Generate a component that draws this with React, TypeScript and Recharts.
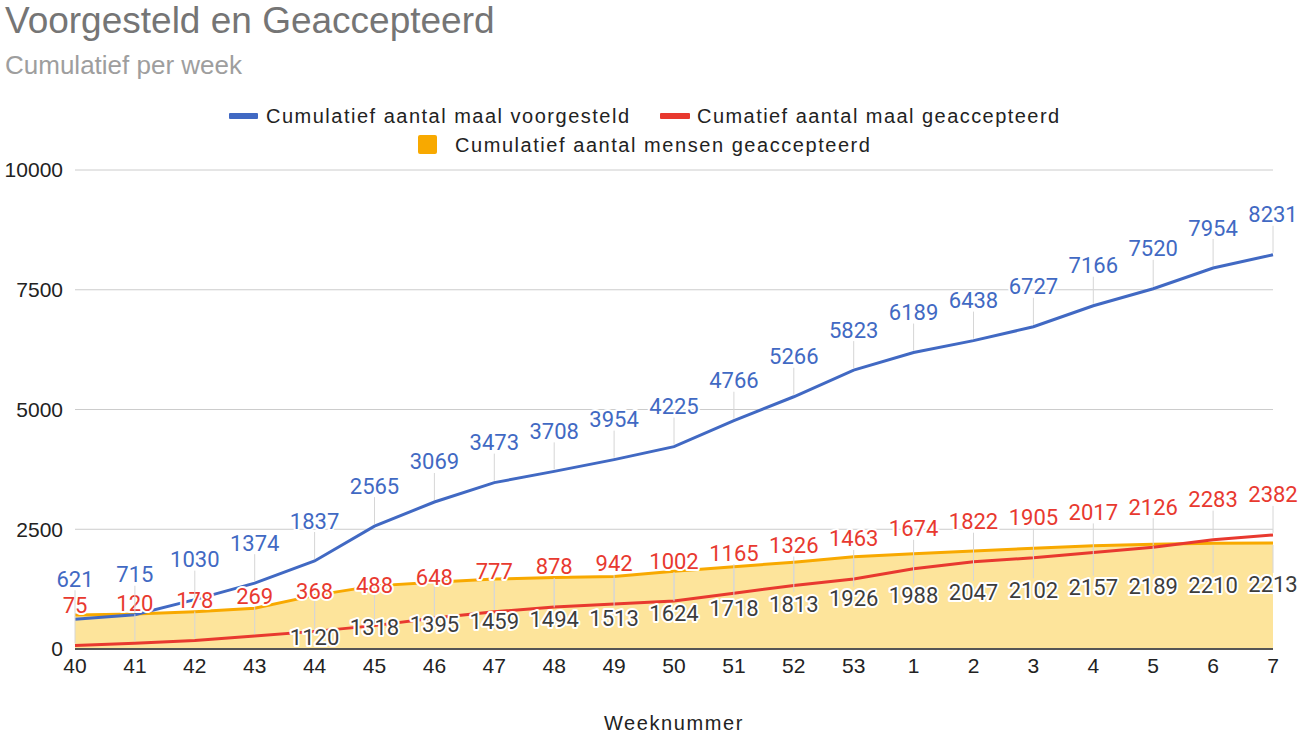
import { ComposedChart, Area, Line, XAxis, YAxis, CartesianGrid } from 'recharts';

// Weeknummers
const weeks = ['40', '41', '42', '43', '44', '45', '46', '47', '48', '49', '50', '51', '52', '53', '1', '2', '3', '4', '5', '6', '7'];

// Cumulatief aantal maal voorgesteld
const voorgesteld = [621, 715, 1030, 1374, 1837, 2565, 3069, 3473, 3708, 3954, 4225, 4766, 5266, 5823, 6189, 6438, 6727, 7166, 7520, 7954, 8231];

// Cumatief aantal maal geaccepteerd
const geaccepteerd = [75, 120, 178, 269, 368, 488, 648, 777, 878, 942, 1002, 1165, 1326, 1463, 1674, 1822, 1905, 2017, 2126, 2283, 2382];

// Cumulatief aantal mensen geaccepteerd (first four, labels hidden)
const mensen = [710, 730, 780, 850, 1120, 1318, 1395, 1459, 1494, 1513, 1624, 1718, 1813, 1926, 1988, 2047, 2102, 2157, 2189, 2210, 2213];

const yTicks = [0, 2500, 5000, 7500, 10000];

const BLUE = '#4169c3';
const RED = '#e8392f';
const ORANGE = '#f8a900';
const AREA_FILL = '#fde49b';
const LABEL_FONT = 'Roboto, sans-serif';
const UI_FONT = '"Liberation Sans", Arial, sans-serif';

const data = weeks.map((w, i) => ({
  week: w,
  voorgesteld: voorgesteld[i],
  geaccepteerd: geaccepteerd[i],
  mensen: mensen[i],
}));

function ValueLabel(props: any) {
  const { x, y, value, index, color, below, skip } = props;
  if (x == null || y == null) return null;
  if (skip && index < skip) return null;
  const ty = below ? y + 42 : y - 40;
  return (
    <g>
      <line
        x1={x}
        x2={x}
        y1={below ? y + 2 : y - 29}
        y2={below ? y + 30 : y - 2}
        stroke="#d6d6d6"
        strokeWidth={1}
      />
      <text
        x={x}
        y={ty}
        textAnchor="middle"
        dominantBaseline="central"
        fontFamily={LABEL_FONT}
        fontSize={22}
        fill={color}
        stroke="#fff"
        strokeWidth={4}
        strokeLinejoin="round"
        style={{ paintOrder: 'stroke' }}
      >
        {value}
      </text>
    </g>
  );
}

export default function App() {
  return (
    <div style={{ position: 'absolute', left: 0, top: 0, width: 1299, height: 737, background: '#fff', fontFamily: UI_FONT }}>
      <div style={{ position: 'absolute', left: 5, top: 2, fontSize: 37, lineHeight: 1, color: '#757575', whiteSpace: 'nowrap' }}>
        Voorgesteld en Geaccepteerd
      </div>
      <div style={{ position: 'absolute', left: 5, top: 52, fontSize: 26, lineHeight: 1, color: '#9e9e9e', whiteSpace: 'nowrap' }}>
        Cumulatief per week
      </div>

      {/* legend */}
      <div style={{ position: 'absolute', left: 229, top: 113, width: 29, height: 6, background: BLUE, borderRadius: 1 }} />
      <div style={{ position: 'absolute', left: 266, top: 106, fontSize: 20, lineHeight: 1, letterSpacing: 1.5, color: '#222', whiteSpace: 'nowrap' }}>
        Cumulatief aantal maal voorgesteld
      </div>
      <div style={{ position: 'absolute', left: 660, top: 113, width: 30, height: 6, background: RED, borderRadius: 1 }} />
      <div style={{ position: 'absolute', left: 697, top: 106, fontSize: 20, lineHeight: 1, letterSpacing: 1.45, color: '#222', whiteSpace: 'nowrap' }}>
        Cumatief aantal maal geaccepteerd
      </div>
      <div style={{ position: 'absolute', left: 418, top: 135, width: 19, height: 19, background: ORANGE, borderRadius: 2 }} />
      <div style={{ position: 'absolute', left: 455, top: 135, fontSize: 20, lineHeight: 1, letterSpacing: 1.55, color: '#222', whiteSpace: 'nowrap' }}>
        Cumulatief aantal mensen geaccepteerd
      </div>

      <div style={{ position: 'absolute', left: 75, width: 1198, top: 713, fontSize: 20, lineHeight: 1, letterSpacing: 1.6, color: '#222', textAlign: 'center' }}>
        Weeknummer
      </div>

      <div style={{ position: 'absolute', left: 0, top: 0 }}>
        <ComposedChart width={1299} height={737} data={data} margin={{ top: 170, right: 26, bottom: 58, left: 15 }}>
          <CartesianGrid vertical={false} stroke="#cccccc" />
          <XAxis
            dataKey="week"
            scale="point"
            height={30}
            interval={0}
            tickLine={false}
            tickSize={0}
            tickMargin={9}
            axisLine={{ stroke: '#555', strokeWidth: 2 }}
            tick={{ fontSize: 21, fill: '#222', fontFamily: UI_FONT }}
          />
          <YAxis
            width={60}
            domain={[0, 10000]}
            ticks={yTicks}
            interval={0}
            axisLine={false}
            tickLine={false}
            tickSize={0}
            tickMargin={12}
            tick={{ fontSize: 21, fill: '#222', fontFamily: UI_FONT }}
          />
          <Area
            type="linear"
            dataKey="mensen"
            stroke={ORANGE}
            strokeWidth={3}
            fill={AREA_FILL}
            fillOpacity={1}
            isAnimationActive={false}
            label={(p: any) => <ValueLabel {...p} color="#3c3c3c" below skip={4} />}
          />
          <Line
            type="linear"
            dataKey="geaccepteerd"
            stroke={RED}
            strokeWidth={3}
            dot={false}
            isAnimationActive={false}
            label={(p: any) => <ValueLabel {...p} color={RED} />}
          />
          <Line
            type="linear"
            dataKey="voorgesteld"
            stroke={BLUE}
            strokeWidth={3}
            dot={false}
            isAnimationActive={false}
            label={(p: any) => <ValueLabel {...p} color={BLUE} />}
          />
        </ComposedChart>
      </div>
    </div>
  );
}
